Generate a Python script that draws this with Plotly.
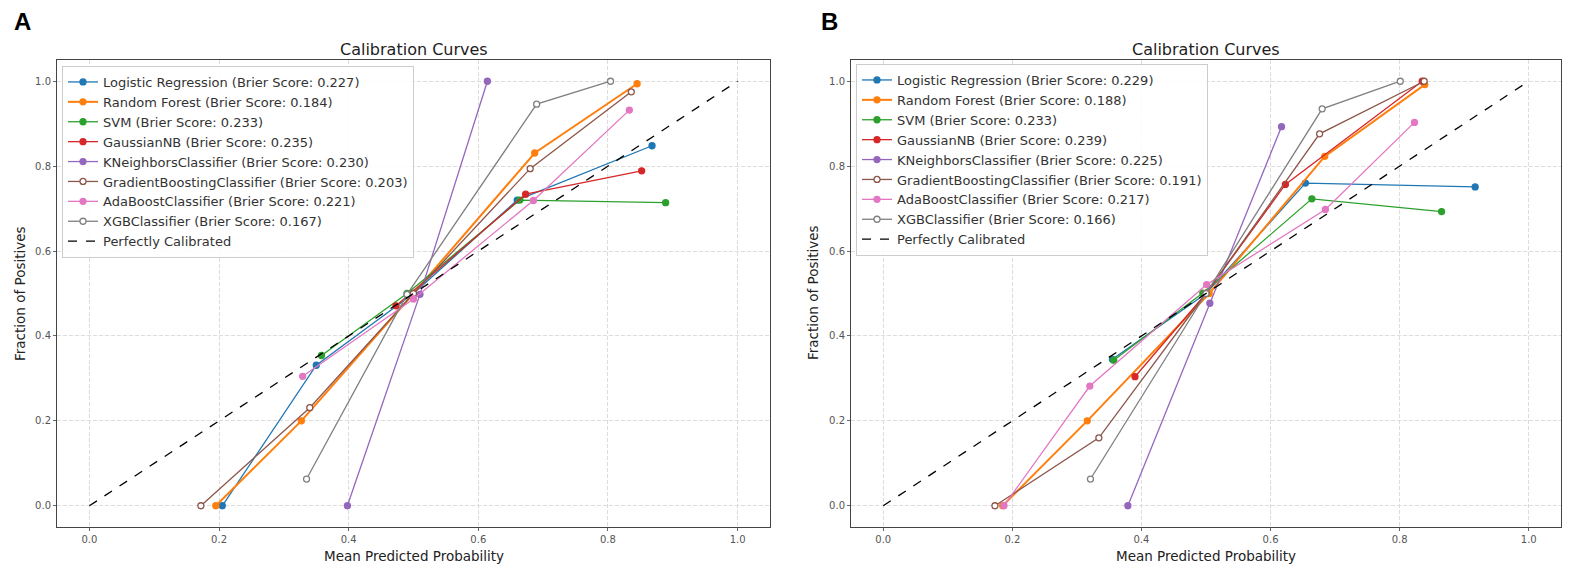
import plotly.graph_objects as go

# ---------------- data ----------------
models = ["Logistic Regression", "Random Forest", "SVM", "GaussianNB",
          "KNeighborsClassifier", "GradientBoostingClassifier",
          "AdaBoostClassifier", "XGBClassifier"]
colors = ["#1f77b4", "#ff7f0e", "#2ca02c", "#d62728",
          "#9467bd", "#8c564b", "#e377c2", "#7f7f7f"]
open_marker = [False, False, False, False, False, True, False, True]

brier_a = [0.227, 0.184, 0.233, 0.235, 0.230, 0.203, 0.221, 0.167]
brier_b = [0.229, 0.188, 0.233, 0.239, 0.225, 0.191, 0.217, 0.166]

# Panel A: mean predicted probability (x) and fraction of positives (y)
a_x = [
    [0.205, 0.350, 0.500, 0.660, 0.868],
    [0.195, 0.327, 0.500, 0.687, 0.845],
    [0.358, 0.490, 0.664, 0.889],
    [0.473, 0.673, 0.852],
    [0.398, 0.510, 0.614],
    [0.172, 0.340, 0.500, 0.680, 0.836],
    [0.329, 0.500, 0.685, 0.833],
    [0.335, 0.490, 0.690, 0.804],
]
a_y = [
    [0.000, 0.331, 0.500, 0.720, 0.848],
    [0.000, 0.200, 0.500, 0.831, 0.994],
    [0.354, 0.500, 0.720, 0.714],
    [0.471, 0.734, 0.789],
    [0.000, 0.498, 1.000],
    [0.000, 0.231, 0.500, 0.794, 0.975],
    [0.305, 0.487, 0.719, 0.932],
    [0.063, 0.498, 0.946, 1.000],
]

# Panel B
b_x = [
    [0.355, 0.500, 0.654, 0.917],
    [0.185, 0.316, 0.505, 0.684, 0.839],
    [0.357, 0.495, 0.664, 0.865],
    [0.390, 0.500, 0.623, 0.835],
    [0.379, 0.506, 0.617],
    [0.173, 0.334, 0.500, 0.676, 0.838],
    [0.187, 0.320, 0.501, 0.685, 0.823],
    [0.321, 0.500, 0.680, 0.801],
]
b_y = [
    [0.345, 0.500, 0.760, 0.751],
    [0.000, 0.200, 0.500, 0.823, 0.992],
    [0.343, 0.501, 0.723, 0.693],
    [0.304, 0.500, 0.757, 1.000],
    [0.000, 0.477, 0.893],
    [0.000, 0.160, 0.500, 0.876, 1.000],
    [0.000, 0.282, 0.521, 0.698, 0.903],
    [0.063, 0.500, 0.935, 1.000],
]

diag = [0.0, 1.0]
ticks = [0.0, 0.2, 0.4, 0.6, 0.8, 1.0]
tick_text = ["0.0", "0.2", "0.4", "0.6", "0.8", "1.0"]

FONT = "DejaVu Sans"
W, H = 1583, 580

fig = go.Figure()


def add_panel(xs, ys, scores, xa, ya, legend):
    for i, m in enumerate(models):
        fig.add_trace(go.Scatter(
            x=xs[i], y=ys[i], mode="lines+markers",
            name=f"{m} (Brier Score: {scores[i]:.3f})",
            line=dict(color=colors[i], width=2 if i == 1 else 1.3),
            marker=dict(size=6, color="white" if open_marker[i] else colors[i],
                        symbol="circle",
                        line=dict(color=colors[i], width=1.3)),
            xaxis=xa, yaxis=ya, legend=legend))
    fig.add_trace(go.Scatter(
        x=diag, y=diag, mode="lines", name="Perfectly Calibrated",
        line=dict(color="black", width=1.3, dash="dash"),
        xaxis=xa, yaxis=ya, legend=legend))


add_panel(a_x, a_y, brier_a, "x", "y", "legend")
add_panel(b_x, b_y, brier_b, "x2", "y2", "legend2")

ydom = [1 - 527 / H, 1 - 60 / H]
xdomA = [57 / W, 770 / W]
xdomB = [851 / W, 1561 / W]

axis_common = dict(
    range=[-0.05, 1.05], tickvals=ticks, ticktext=tick_text,
    showgrid=True, gridcolor="#dcdcdc", gridwidth=1, griddash="4px,2px",
    zeroline=False, showline=True, linecolor="#444", linewidth=1,
    mirror=True, ticks="outside", ticklen=3, tickcolor="#666",
    automargin=False,
    tickfont=dict(family=FONT, size=10, color="#555"),
)

legend_common = dict(
    xanchor="left", yanchor="top",
    bgcolor="rgba(255,255,255,0.85)", bordercolor="#cccccc",
    borderwidth=1, font=dict(family=FONT, size=13, color="#333"),
    tracegroupgap=0, itemwidth=30,
)

fig.update_layout(
    width=W, height=H,
    margin=dict(l=0, r=0, t=0, b=0),
    paper_bgcolor="white", plot_bgcolor="white",
    font=dict(family=FONT, color="#222"),
    xaxis=dict(domain=xdomA, anchor="y", **axis_common),
    yaxis=dict(domain=ydom, anchor="x", **axis_common),
    xaxis2=dict(domain=xdomB, anchor="y2", **axis_common),
    yaxis2=dict(domain=ydom, anchor="x2", **axis_common),
    legend=dict(x=62 / W, y=1 - 66 / H, **legend_common),
    legend2=dict(x=856 / W, y=1 - 64 / H, **legend_common),
    showlegend=True,
)


def text_ann(x, y, text, size, angle=0, family=FONT, color="#222"):
    return dict(x=x / W, y=1 - y / H, xref="paper", yref="paper",
                xanchor="center", yanchor="middle", text=text,
                showarrow=False, textangle=angle,
                font=dict(family=family, size=size, color=color))


ann = []
for cx in [(57 + 770) / 2, (851 + 1561) / 2]:
    ann.append(text_ann(cx, 49, "Calibration Curves", 16))
    ann.append(text_ann(cx, 556, "Mean Predicted Probability", 13.5))
ann.append(text_ann(20, 294, "Fraction of Positives", 13.5, angle=-90))
ann.append(text_ann(813, 292, "Fraction of Positives", 13.5, angle=-90))
ann.append(text_ann(22, 22, "<b>A</b>", 24, family="Liberation Sans", color="black"))
ann.append(text_ann(830, 22, "<b>B</b>", 24, family="Liberation Sans", color="black"))
fig.update_layout(annotations=ann)

fig.write_html(
    "out.html",
    config={"displayModeBar": False},
    post_script="document.body.style.margin='0';document.body.style.padding='0';",
)
